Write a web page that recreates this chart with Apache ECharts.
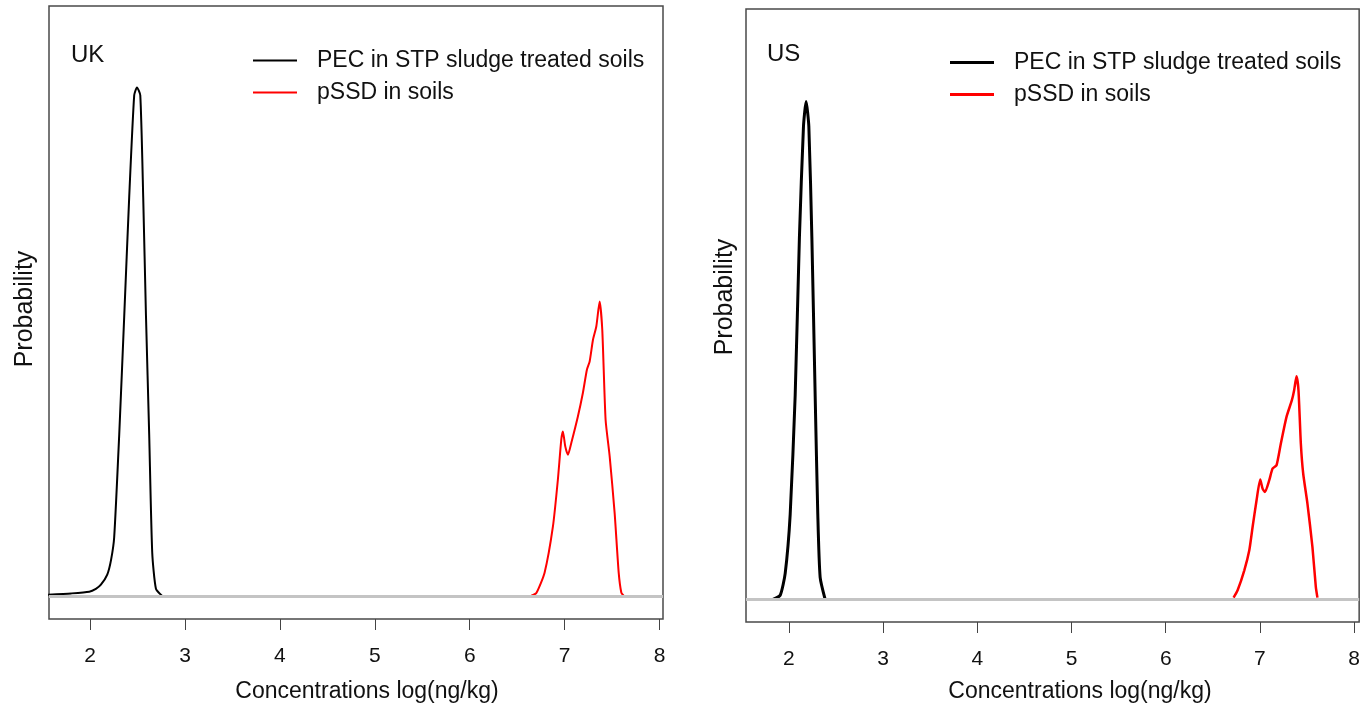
<!DOCTYPE html>
<html>
<head>
<meta charset="utf-8">
<script src="https://cdn.jsdelivr.net/npm/echarts@6/dist/echarts.min.js"></script>
<style>
  html, body { margin: 0; padding: 0; background: #fff; }
  #box { width: 1363px; height: 707px; }
</style>
</head>
<body>
<div id="box"></div>
<script>
var seriesNames = ['PEC in STP sludge treated soils', 'pSSD in soils'];
var tickValues = [2, 3, 4, 5, 6, 7, 8];

// UK panel: density curves (x = log concentration, y = density)
var ukPecX = [1.557, 1.8, 1.99, 2.06, 2.113, 2.18, 2.22, 2.253, 2.306, 2.359, 2.411, 2.464, 2.493, 2.528, 2.559, 2.588, 2.622, 2.654, 2.693, 2.756];
var ukPecY = [0.015, 0.025, 0.038, 0.06, 0.091, 0.168, 0.28, 0.453, 1.234, 2.14, 3.04, 3.82, 3.88, 3.82, 3.04, 2.14, 1.234, 0.335, 0.061, 0.008];
var ukSsdX = [6.649, 6.702, 6.789, 6.877, 6.929, 6.965, 6.982, 7.007, 7.035, 7.071, 7.140, 7.193, 7.235, 7.264, 7.299, 7.334, 7.369, 7.397, 7.432, 7.475, 7.527, 7.570, 7.598, 7.622];
var ukSsdY = [0.008, 0.028, 0.183, 0.535, 0.891, 1.196, 1.259, 1.145, 1.081, 1.173, 1.373, 1.554, 1.729, 1.792, 1.957, 2.058, 2.248, 2.033, 1.348, 1.069, 0.640, 0.183, 0.030, 0.008];

// US panel
var usPecX = [1.831, 1.908, 1.961, 2.014, 2.067, 2.112, 2.155, 2.183, 2.212, 2.244, 2.279, 2.307, 2.332, 2.385];
var usPecY = [0.0, 0.031, 0.198, 0.648, 1.556, 2.761, 3.604, 3.794, 3.604, 2.761, 1.556, 0.648, 0.168, 0.0];
var usSsdX = [6.720, 6.763, 6.834, 6.887, 6.922, 6.964, 7.003, 7.028, 7.053, 7.099, 7.134, 7.176, 7.222, 7.282, 7.339, 7.363, 7.388, 7.409, 7.434, 7.459, 7.504, 7.557, 7.593, 7.610];
var usSsdY = [0.013, 0.069, 0.221, 0.374, 0.551, 0.755, 0.913, 0.844, 0.818, 0.908, 0.997, 1.022, 1.188, 1.391, 1.518, 1.594, 1.701, 1.594, 1.188, 0.959, 0.730, 0.399, 0.094, 0.013];

var FONT = "'Liberation Sans', Arial, Helvetica, sans-serif";

function pairs(xs, ys) {
    return xs.map(function (x, i) { return [x, ys[i]]; });
}

function curve(name, xs, ys, color, width, idx) {
    return {
        name: name,
        type: 'line',
        xAxisIndex: idx,
        yAxisIndex: idx,
        data: pairs(xs, ys),
        symbol: 'none',
        smooth: 0.2,
        z: 3,
        lineStyle: { color: color, width: width },
        itemStyle: { color: color }
    };
}

// grey zero line (abline h = 0)
function baseline(idx) {
    return {
        type: 'line',
        xAxisIndex: idx,
        yAxisIndex: idx,
        data: [],
        z: 1,
        markLine: {
            silent: true,
            symbol: ['none', 'none'],
            label: { show: false },
            lineStyle: { color: '#c4c4c4', width: 3, type: 'solid' },
            data: [{ yAxis: 0 }]
        }
    };
}

function xAxisFor(idx, min, max) {
    return {
        type: 'value',
        gridIndex: idx,
        min: min,
        max: max,
        axisLine: { show: false, onZero: false },
        splitLine: { show: false },
        axisTick: { show: true, length: 11, customValues: tickValues, lineStyle: { color: '#444', width: 1 } },
        axisLabel: { customValues: tickValues, margin: 27, fontSize: 21, color: '#111', fontFamily: FONT }
    };
}

function legendFor(left, top, lineH) {
    return {
        data: seriesNames,
        orient: 'vertical',
        left: left,
        top: top,
        padding: 0,
        icon: 'rect',
        itemWidth: 44,
        itemHeight: lineH,
        itemGap: 9,
        selectedMode: false,
        textStyle: { fontSize: 23, lineHeight: 23, color: '#111', fontFamily: FONT, padding: [0, 0, 0, 15] }
    };
}

var myChart = echarts.init(document.getElementById('box'));

var option = {
    animation: false,
    grid: [
        { left: 49, top: 6, width: 614, height: 613, show: true, borderColor: '#4a4a4a', borderWidth: 1.5, backgroundColor: '#fff' },
        { left: 746, top: 9, width: 614, height: 613, show: true, borderColor: '#4a4a4a', borderWidth: 1.5, backgroundColor: '#fff' }
    ],
    xAxis: [
        xAxisFor(0, 1.566, 8.037),
        xAxisFor(1, 1.545, 8.053)
    ],
    yAxis: [
        { type: 'value', gridIndex: 0, min: -0.17, max: 4.5, show: false },
        { type: 'value', gridIndex: 1, min: -0.173, max: 4.5, show: false }
    ],
    legend: [
        legendFor(253, 49, 2),
        legendFor(950, 51, 3)
    ],
    graphic: [
        { type: 'text', left: 71, top: 43, style: { text: 'UK', fill: '#111', font: '24px ' + FONT } },
        { type: 'text', left: 767, top: 42, style: { text: 'US', fill: '#111', font: '24px ' + FONT } },
        { type: 'text', x: 367, y: 692, style: { text: 'Concentrations log(ng/kg)', fill: '#111', font: '23px ' + FONT, align: 'center', verticalAlign: 'middle' } },
        { type: 'text', x: 1080, y: 692, style: { text: 'Concentrations log(ng/kg)', fill: '#111', font: '23px ' + FONT, align: 'center', verticalAlign: 'middle' } },
        { type: 'text', x: 25, y: 309, rotation: Math.PI / 2, style: { text: 'Probability', fill: '#111', font: '25px ' + FONT, align: 'center', verticalAlign: 'middle' } },
        { type: 'text', x: 725, y: 297, rotation: Math.PI / 2, style: { text: 'Probability', fill: '#111', font: '25px ' + FONT, align: 'center', verticalAlign: 'middle' } }
    ],
    series: [
        baseline(0),
        curve(seriesNames[0], ukPecX, ukPecY, '#000', 2, 0),
        curve(seriesNames[1], ukSsdX, ukSsdY, '#ff0000', 2, 0),
        baseline(1),
        curve(seriesNames[0], usPecX, usPecY, '#000', 3, 1),
        curve(seriesNames[1], usSsdX, usSsdY, '#ff0000', 2.5, 1)
    ]
};

myChart.setOption(option);
window.addEventListener('resize', function () {
    myChart.resize();
});
</script>
</body>
</html>
